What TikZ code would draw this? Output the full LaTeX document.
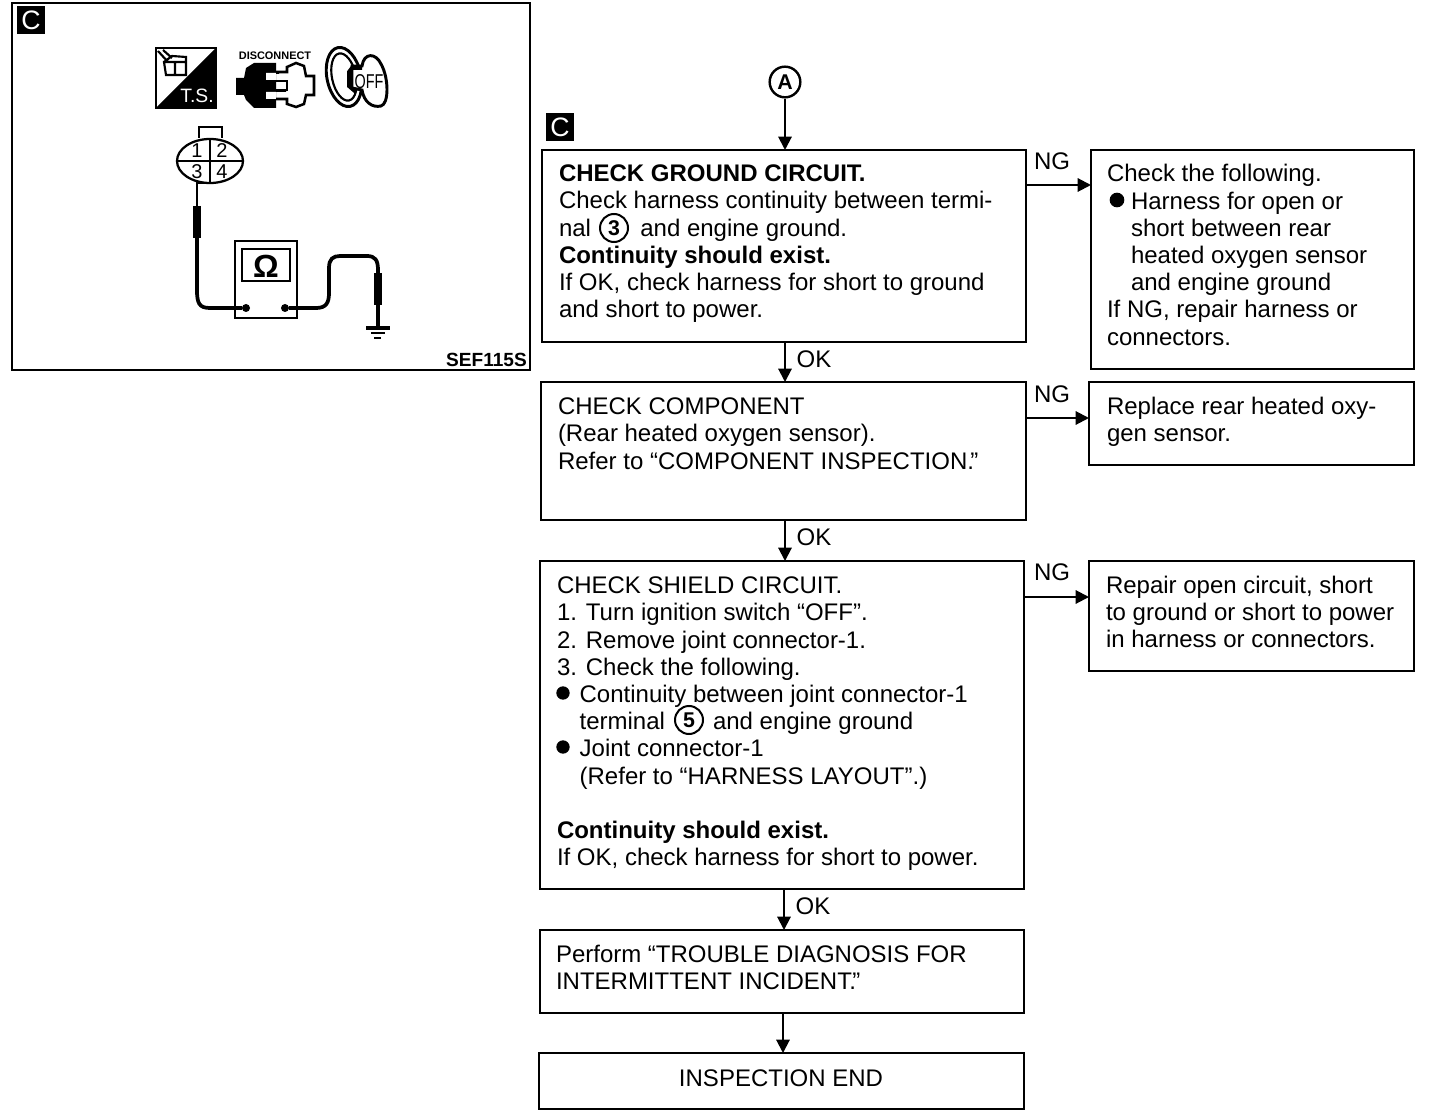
\documentclass[tikz,border=0pt]{standalone}
\usepackage{fontspec}
\setmainfont{Liberation Sans}
\usetikzlibrary{arrows.meta,shapes.geometric}
\newcommand{\bodyfont}{\fontsize{18}{20.4}\selectfont}
\newcommand{\hd}[1]{\textbf{#1}}
\tikzset{
  x=0.75pt,y=-0.75pt,
  box/.style={draw=black,line width=1.8pt,fill=white,inner sep=0pt,outer sep=0pt,anchor=north west},
  wh/.style n args={2}{minimum width=#1*0.75pt,minimum height=#2*0.75pt},
  txt/.style={inner sep=0pt,outer sep=0pt,anchor=north west,align=left,font=\bodyfont},
  lbl/.style={inner sep=0pt,outer sep=0pt,font=\bodyfont},
  arr/.style={draw=black,line width=1.5pt,-{Triangle[length=10pt,width=10pt]}},
  tag/.style={fill=black,text=white,minimum size=21pt,inner sep=0pt,outer sep=0pt,font=\fontsize{20}{20}\selectfont,anchor=north west},
  cnum/.style={circle,draw=black,line width=1.5pt,minimum size=21pt,inner sep=0pt,font=\bfseries\fontsize{16}{16}\selectfont},
  dot/.style={circle,fill=black,inner sep=0pt,outer sep=0pt},
  wire/.style={draw=black,line width=2.8pt,line join=round},
  probe/.style={draw=black,line width=6.5pt},
  thinl/.style={draw=black,line width=1.7pt},
  num/.style={inner sep=0pt,font=\fontsize{15}{15}\selectfont},
}
\begin{document}
\begin{tikzpicture}
\useasboundingbox (0,0) rectangle (1440,1120);
% left panel
\node[box,wh={518}{367}] (panel) at (12,3) {};
\node[tag] (tagl) at (17,6) {C};
\node[inner sep=0pt,anchor=base east,font=\bfseries\fontsize{14.3}{14.3}\selectfont] (sef) at (527,366) {SEF115S};
% T.S. icon
\draw[thinl] (156,48) rectangle (216,108);
\fill (216,48) -- (216,108) -- (156,108) -- cycle;
\node[inner sep=0pt,text=white,font=\fontsize{14.5}{14.5}\selectfont] (ts) at (197,96) {T.S.};
\draw[draw=black,line width=1.6pt] (164,62) -- (186,62) -- (186,75) -- (166,75) -- cycle (175,62) -- (175,75) (164,62) -- (172,56) -- (186,57) -- (186,62)
  (158,51) -- (168,62) (163,50) -- (172,58);
% disconnect icon
\node[inner sep=0pt,font=\bfseries\fontsize{8.2}{8.2}\selectfont] (disc) at (275,56) {DISCONNECT};
\fill (236,78) -- (244,78) -- (246,68) -- (254,63) -- (276,63) -- (276,108) -- (254,108) -- (246,100) -- (244,95) -- (236,95) -- cycle;
\fill[white] (266,73) rectangle (276,80) (266,92) rectangle (276,99);
\draw[thinl,line width=1.9pt] (276,72) -- (287,72) -- (287,67) -- (296,63) -- (304,66) -- (306,76) -- (314,76) -- (314,95) -- (306,95) -- (304,104) -- (296,107) -- (287,104) -- (287,99) -- (276,99);
\draw[thinl,line width=1.9pt] (276,81) -- (287,81) -- (287,90) -- (276,90);
\fill (276,72) rectangle (279,74) (276,90) rectangle (286,92);
% key icon
\draw[thinl,line width=2.2pt,rotate around={12:(344,77)}] (344,77) ellipse (17 and 30);
\draw[thinl,line width=1.6pt,rotate around={12:(344,77)}] (344,77) ellipse (12 and 24);
\draw[thinl,line width=2.2pt,fill=white] (352,66) -- (362,66) .. controls (364,52) and (376,53) .. (381,64) .. controls (389,78) and (389,104) .. (381,106) .. controls (372,108) and (364,102) .. (362,90) -- (352,88) -- cycle;
\draw[thinl,line width=3pt] (362,68) -- (352,68) -- (349,72) -- (349,86) -- (356,92);
\node[inner sep=0pt,transform shape,xscale=0.72,font=\fontsize{15}{15}\selectfont] (off) at (369,82) {OFF};
% connector
\draw[thinl,fill=white] (210,161) ellipse (33 and 22);
\draw[thinl] (199,138) -- (199,127) -- (222,127) -- (222,138);
\draw[thinl] (177,161) -- (243,161) (210,139) -- (210,183) -- (198,183);
\node[num] (n1) at (197,151) {1};
\node[num] (n2) at (222,151) {2};
\node[num] (n3) at (197,172) {3};
\node[num] (n4) at (222,172) {4};
% meter
\draw[thinl,line width=1.9pt] (235,241) rectangle (297,318);
\draw[thinl,line width=1.9pt] (242,249) rectangle (290,281);
\node[inner sep=0pt,font=\bfseries\fontsize{24}{24}\selectfont] (ohm) at (266,266) {\symbol{"03A9}};
\node[dot,minimum size=6pt] (pl) at (246,308) {};
\node[dot,minimum size=6pt] (pr) at (285,308) {};
\draw[draw=black,line width=2pt] (197,181) -- (197,208);
\draw[wire] (197,236) -- (197,290) .. controls (197,303) and (199,308) .. (210,308) -- (pl);
\draw[probe] (197,206) -- (197,238);
\draw[wire] (pr) -- (316,308) .. controls (326,308) and (329,303) .. (329,293) -- (329,268) .. controls (329,259) and (333,256) .. (340,256) -- (367,256) .. controls (375,256) and (378,260) .. (378,270) -- (378,328);
\draw[probe] (378,273) -- (378,305);
\draw[draw=black,line width=2.4pt] (366,328) -- (390,328);
\draw[draw=black,line width=1.8pt] (371,333) -- (385,333) (374,338) -- (381,338);
% flow boxes
\node[circle,draw=black,line width=1.8pt,minimum size=23pt,inner sep=0pt,font=\bfseries\fontsize{16}{16}\selectfont] (A) at (785,82) {A};
\node[tag] (tagr) at (546,113) {C};
\node[box,wh={484}{192}] (b1) at (542,150) {};
\node[box,wh={323}{219}] (n1b) at (1091,150) {};
\node[box,wh={485}{138}] (b2) at (541,382) {};
\node[box,wh={325}{83}] (n2b) at (1089,382) {};
\node[box,wh={484}{328}] (b3) at (540,561) {};
\node[box,wh={325}{110}] (n3b) at (1089,561) {};
\node[box,wh={484}{83}] (b4) at (540,930) {};
\node[box,wh={485}{56}] (b5) at (539,1053) {};
% texts
\node[txt] (t1) at (559,165) {\hd{CHECK GROUND CIRCUIT.}\\Check harness continuity between termi-\\nal\hspace{37pt}and engine ground.\\\hd{Continuity should exist.}\\If OK, check harness for short to ground\\and short to power.};
\node[cnum] (c3) at (614,228) {3};
\node[txt] (t1n) at (1107,164.5) {Check the following.\\\hspace{18pt}Harness for open or\\\hspace{18pt}short between rear\\\hspace{18pt}heated oxygen sensor\\\hspace{18pt}and engine ground\\If NG, repair harness or\\connectors.};
\node[dot,minimum size=11pt] (bu1) at (1117,200) {};
\node[txt] (t2) at (558,398) {CHECK COMPONENT\\(Rear heated oxygen sensor).\\Refer to “COMPONENT INSPECTION.\kern-.15em”};
\node[txt] (t2n) at (1107,397) {Replace rear heated oxy-\\gen sensor.};
\node[txt] (t3) at (557,577) {CHECK SHIELD CIRCUIT.\\1. Turn ignition switch “OFF”.\\2. Remove joint connector-1.\\3. Check the following.\\\hspace{17pt}Continuity between joint connector-1\\\hspace{17pt}terminal\hspace{36pt}and engine ground\\\hspace{17pt}Joint connector-1\\\hspace{17pt}(Refer to “HARNESS LAYOUT”.)\\[20.4pt]\hd{Continuity should exist.}\\If OK, check harness for short to power.};
\node[cnum] (c5) at (689,720) {5};
\node[dot,minimum size=10pt] (bu2) at (563,693) {};
\node[dot,minimum size=10pt] (bu3) at (563,747) {};
\node[txt] (t3n) at (1106,576) {Repair open circuit, short\\to ground or short to power\\in harness or connectors.};
\node[txt] (t4) at (556,945) {Perform “TROUBLE DIAGNOSIS FOR\\INTERMITTENT INCIDENT.\kern-.15em”};
\node[lbl] (t5) at (781,1078) {INSPECTION END};
% connectors
\coordinate (xa) at (785,0);
\coordinate (xb) at (784,0);
\coordinate (xc) at (783,0);
\draw[arr] (A) -- (A |- b1.north);
\draw[arr] (b1.south -| xa) -- (b2.north -| xa);
\draw[arr] (b2.south -| xa) -- (b3.north -| xa);
\draw[arr] (b3.south -| xb) -- (b4.north -| xb);
\draw[arr] (b4.south -| xc) -- (b5.north -| xc);
\coordinate (y1) at (0,185);
\coordinate (y2) at (0,418);
\coordinate (y3) at (0,597);
\draw[arr] (b1.east |- y1) -- (n1b.west |- y1);
\draw[arr] (b2.east |- y2) -- (n2b.west |- y2);
\draw[arr] (b3.east |- y3) -- (n3b.west |- y3);
\node[lbl] (ng1) at (1052,161) {NG};
\node[lbl] (ng2) at (1052,394) {NG};
\node[lbl] (ng3) at (1052,572) {NG};
\node[lbl] (ok1) at (814,359) {OK};
\node[lbl] (ok2) at (814,537) {OK};
\node[lbl] (ok3) at (813,906) {OK};
\end{tikzpicture}
\end{document}
